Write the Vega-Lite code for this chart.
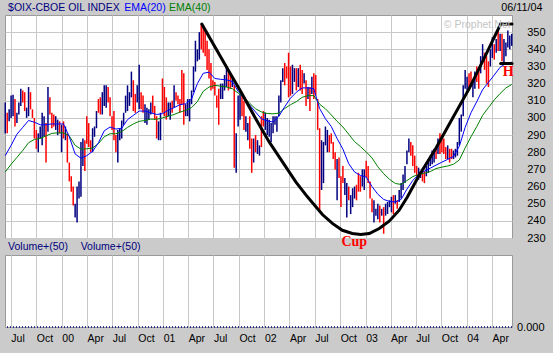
{
"$schema": "https://vega.github.io/schema/vega-lite/v6.json",
"background": "#cbcbcb",
"padding": {"left": 2, "top": 1, "right": 12, "bottom": 10},
"bounds": "flush",
"spacing": 17,
"datasets": {
"bars": [
{"d":"1999-06-11","h":309,"l":291,"c":"u"},{"d":"1999-06-18","h":303,"l":291,"c":"d"},{"d":"1999-06-25","h":305,"l":298,"c":"u"},
{"d":"1999-07-02","h":313,"l":300,"c":"u"},{"d":"1999-07-09","h":313.5,"l":301,"c":"u"},{"d":"1999-07-16","h":311,"l":295,"c":"d"},{"d":"1999-07-23","h":303,"l":297,"c":"u"},{"d":"1999-07-30","h":309,"l":302,"c":"u"},
{"d":"1999-08-06","h":317,"l":307,"c":"u"},{"d":"1999-08-13","h":316,"l":309,"c":"d"},{"d":"1999-08-20","h":315,"l":304,"c":"d"},{"d":"1999-08-27","h":306,"l":300,"c":"u"},
{"d":"1999-09-03","h":318,"l":301,"c":"u"},{"d":"1999-09-10","h":315,"l":305,"c":"d"},{"d":"1999-09-17","h":305,"l":300,"c":"d"},{"d":"1999-09-24","h":300,"l":288,"c":"d"},
{"d":"1999-10-01","h":293,"l":282,"c":"d"},{"d":"1999-10-08","h":291,"l":280,"c":"u"},{"d":"1999-10-15","h":295,"l":288,"c":"u"},{"d":"1999-10-22","h":303,"l":284,"c":"u"},{"d":"1999-10-29","h":301,"l":289,"c":"u"},
{"d":"1999-11-05","h":297,"l":274,"c":"d"},{"d":"1999-11-12","h":318,"l":292,"c":"u"},{"d":"1999-11-19","h":312,"l":302,"c":"d"},{"d":"1999-11-26","h":303,"l":294,"c":"d"},
{"d":"1999-12-03","h":302,"l":295,"c":"d"},{"d":"1999-12-10","h":301,"l":293,"c":"u"},{"d":"1999-12-17","h":299,"l":290,"c":"u"},{"d":"1999-12-24","h":298,"l":291,"c":"d"},{"d":"1999-12-31","h":296,"l":280,"c":"u"},
{"d":"2000-01-07","h":298,"l":288,"c":"d"},{"d":"2000-01-14","h":295,"l":287,"c":"u"},{"d":"2000-01-21","h":291,"l":274,"c":"d"},{"d":"2000-01-28","h":274,"l":263,"c":"d"},
{"d":"2000-02-04","h":266,"l":257,"c":"d"},{"d":"2000-02-11","h":260,"l":249,"c":"d"},{"d":"2000-02-18","h":250,"l":242,"c":"u"},{"d":"2000-02-25","h":260,"l":239,"c":"u"},
{"d":"2000-03-03","h":263,"l":253,"c":"u"},{"d":"2000-03-10","h":286,"l":254,"c":"u"},{"d":"2000-03-17","h":288,"l":272,"c":"u"},{"d":"2000-03-24","h":287,"l":269,"c":"d"},{"d":"2000-03-31","h":301,"l":285,"c":"d"},
{"d":"2000-04-07","h":297,"l":283,"c":"d"},{"d":"2000-04-14","h":287,"l":280,"c":"d"},{"d":"2000-04-21","h":294,"l":280,"c":"u"},{"d":"2000-04-28","h":295,"l":289,"c":"u"},
{"d":"2000-05-05","h":304,"l":294,"c":"u"},{"d":"2000-05-12","h":311,"l":303,"c":"d"},{"d":"2000-05-19","h":312,"l":302,"c":"d"},{"d":"2000-05-26","h":315,"l":302,"c":"u"},
{"d":"2000-06-02","h":319,"l":307,"c":"u"},{"d":"2000-06-09","h":319,"l":306,"c":"u"},{"d":"2000-06-16","h":318,"l":309,"c":"d"},{"d":"2000-06-23","h":312,"l":301,"c":"d"},{"d":"2000-06-30","h":301,"l":293,"c":"d"},
{"d":"2000-07-07","h":304,"l":287,"c":"d"},{"d":"2000-07-14","h":290,"l":280,"c":"d"},{"d":"2000-07-21","h":293,"l":274,"c":"u"},{"d":"2000-07-28","h":294,"l":287,"c":"u"},
{"d":"2000-08-04","h":298.5,"l":288,"c":"u"},{"d":"2000-08-11","h":303,"l":296,"c":"u"},{"d":"2000-08-18","h":313,"l":303,"c":"u"},{"d":"2000-08-25","h":319,"l":304,"c":"u"},
{"d":"2000-09-01","h":315,"l":307,"c":"u"},{"d":"2000-09-08","h":327,"l":312,"c":"u"},{"d":"2000-09-15","h":322,"l":304,"c":"d"},{"d":"2000-09-22","h":314,"l":303,"c":"d"},{"d":"2000-09-29","h":319,"l":309,"c":"u"},
{"d":"2000-10-06","h":331,"l":305,"c":"u"},{"d":"2000-10-13","h":315,"l":305,"c":"d"},{"d":"2000-10-20","h":313,"l":303,"c":"d"},{"d":"2000-10-27","h":308,"l":297,"c":"u"},
{"d":"2000-11-03","h":306,"l":296,"c":"u"},{"d":"2000-11-10","h":305,"l":299,"c":"u"},{"d":"2000-11-17","h":309,"l":302,"c":"u"},{"d":"2000-11-24","h":313,"l":303,"c":"d"},
{"d":"2000-12-01","h":307,"l":299,"c":"d"},{"d":"2000-12-08","h":301,"l":288,"c":"d"},{"d":"2000-12-15","h":298,"l":287,"c":"u"},{"d":"2000-12-22","h":303,"l":287,"c":"u"},{"d":"2000-12-29","h":323,"l":303,"c":"d"},
{"d":"2001-01-05","h":318,"l":301,"c":"d"},{"d":"2001-01-12","h":312,"l":299,"c":"d"},{"d":"2001-01-19","h":309,"l":301,"c":"u"},{"d":"2001-01-26","h":309,"l":299,"c":"u"},
{"d":"2001-02-02","h":310,"l":303,"c":"d"},{"d":"2001-02-09","h":319,"l":306,"c":"u"},{"d":"2001-02-16","h":315,"l":310,"c":"d"},{"d":"2001-02-23","h":313,"l":308,"c":"d"},
{"d":"2001-03-02","h":311,"l":303,"c":"d"},{"d":"2001-03-09","h":328,"l":308,"c":"d"},{"d":"2001-03-16","h":326,"l":296,"c":"d"},{"d":"2001-03-23","h":308,"l":301,"c":"u"},{"d":"2001-03-30","h":311,"l":301,"c":"u"},
{"d":"2001-04-06","h":311,"l":298,"c":"u"},{"d":"2001-04-13","h":316,"l":308,"c":"u"},{"d":"2001-04-20","h":330,"l":315,"c":"u"},{"d":"2001-04-27","h":345,"l":327,"c":"u"},
{"d":"2001-05-04","h":340,"l":333,"c":"u"},{"d":"2001-05-11","h":350,"l":334,"c":"u"},{"d":"2001-05-18","h":354.5,"l":340,"c":"d"},{"d":"2001-05-25","h":353,"l":338,"c":"d"},
{"d":"2001-06-01","h":351,"l":336,"c":"d"},{"d":"2001-06-08","h":345,"l":328,"c":"d"},{"d":"2001-06-15","h":340,"l":323,"c":"d"},{"d":"2001-06-22","h":332,"l":316,"c":"d"},{"d":"2001-06-29","h":322,"l":317,"c":"d"},
{"d":"2001-07-06","h":321,"l":313,"c":"d"},{"d":"2001-07-13","h":313,"l":306,"c":"d"},{"d":"2001-07-20","h":317,"l":296,"c":"d"},{"d":"2001-07-27","h":320,"l":311,"c":"u"},
{"d":"2001-08-03","h":320,"l":311,"c":"u"},{"d":"2001-08-10","h":325,"l":316,"c":"u"},{"d":"2001-08-17","h":330,"l":318,"c":"u"},{"d":"2001-08-24","h":328,"l":316,"c":"d"},{"d":"2001-08-31","h":325,"l":317,"c":"d"},
{"d":"2001-09-07","h":323,"l":318,"c":"u"},{"d":"2001-09-14","h":319,"l":271,"c":"d"},{"d":"2001-09-21","h":291,"l":268,"c":"u"},{"d":"2001-09-28","h":313,"l":295,"c":"u"},
{"d":"2001-10-05","h":314,"l":299,"c":"u"},{"d":"2001-10-12","h":313,"l":301,"c":"d"},{"d":"2001-10-19","h":310,"l":293,"c":"d"},{"d":"2001-10-26","h":301,"l":292,"c":"u"},
{"d":"2001-11-02","h":297,"l":287,"c":"u"},{"d":"2001-11-09","h":301,"l":282,"c":"d"},{"d":"2001-11-16","h":288,"l":268,"c":"d"},{"d":"2001-11-23","h":288,"l":274,"c":"u"},{"d":"2001-11-30","h":290,"l":280,"c":"d"},
{"d":"2001-12-07","h":287,"l":279,"c":"u"},{"d":"2001-12-14","h":284,"l":278,"c":"u"},{"d":"2001-12-21","h":301,"l":283,"c":"d"},{"d":"2001-12-28","h":304,"l":295,"c":"d"},
{"d":"2002-01-04","h":303,"l":293,"c":"u"},{"d":"2002-01-11","h":300,"l":290,"c":"u"},{"d":"2002-01-18","h":299,"l":289,"c":"u"},{"d":"2002-01-25","h":297,"l":286,"c":"u"},
{"d":"2002-02-01","h":301,"l":291,"c":"u"},{"d":"2002-02-08","h":301,"l":296,"c":"u"},{"d":"2002-02-15","h":301,"l":292,"c":"u"},{"d":"2002-02-22","h":313,"l":301,"c":"u"},
{"d":"2002-03-01","h":322,"l":309,"c":"u"},{"d":"2002-03-08","h":329,"l":321,"c":"u"},{"d":"2002-03-15","h":332,"l":319,"c":"d"},{"d":"2002-03-22","h":330,"l":323,"c":"d"},{"d":"2002-03-29","h":338,"l":312,"c":"d"},
{"d":"2002-04-05","h":330,"l":313,"c":"d"},{"d":"2002-04-12","h":331,"l":314,"c":"u"},{"d":"2002-04-19","h":329,"l":321,"c":"u"},{"d":"2002-04-26","h":329,"l":316,"c":"d"},
{"d":"2002-05-03","h":329,"l":318,"c":"u"},{"d":"2002-05-10","h":331,"l":316,"c":"d"},{"d":"2002-05-17","h":328,"l":314,"c":"d"},{"d":"2002-05-24","h":326,"l":320,"c":"u"},{"d":"2002-05-31","h":322,"l":307,"c":"d"},
{"d":"2002-06-07","h":318,"l":311,"c":"u"},{"d":"2002-06-14","h":318,"l":304,"c":"d"},{"d":"2002-06-21","h":324,"l":314,"c":"u"},{"d":"2002-06-28","h":326,"l":311,"c":"d"},
{"d":"2002-07-05","h":325,"l":313,"c":"d"},{"d":"2002-07-12","h":311,"l":293,"c":"d"},{"d":"2002-07-19","h":294,"l":246,"c":"d"},{"d":"2002-07-26","h":287,"l":258,"c":"u"},
{"d":"2002-08-02","h":286,"l":262,"c":"u"},{"d":"2002-08-09","h":295,"l":284,"c":"u"},{"d":"2002-08-16","h":293,"l":280,"c":"u"},{"d":"2002-08-23","h":290,"l":280,"c":"d"},{"d":"2002-08-30","h":291,"l":285,"c":"d"},
{"d":"2002-09-06","h":286,"l":276,"c":"d"},{"d":"2002-09-13","h":280,"l":270,"c":"d"},{"d":"2002-09-20","h":276,"l":252,"c":"u"},{"d":"2002-09-27","h":277,"l":265,"c":"d"},
{"d":"2002-10-04","h":266,"l":248,"c":"d"},{"d":"2002-10-11","h":272,"l":262,"c":"d"},{"d":"2002-10-18","h":265,"l":255,"c":"u"},{"d":"2002-10-25","h":262,"l":242,"c":"u"},
{"d":"2002-11-01","h":260,"l":252,"c":"d"},{"d":"2002-11-08","h":255,"l":244,"c":"u"},{"d":"2002-11-15","h":259,"l":248,"c":"u"},{"d":"2002-11-22","h":260,"l":253,"c":"u"},{"d":"2002-11-29","h":261,"l":252,"c":"d"},
{"d":"2002-12-06","h":268,"l":257,"c":"d"},{"d":"2002-12-13","h":266,"l":257,"c":"d"},{"d":"2002-12-20","h":270,"l":260,"c":"u"},{"d":"2002-12-27","h":270,"l":258,"c":"u"},
{"d":"2003-01-03","h":275,"l":265.5,"c":"d"},{"d":"2003-01-10","h":272,"l":262,"c":"d"},{"d":"2003-01-17","h":263,"l":253,"c":"d"},{"d":"2003-01-24","h":253,"l":245,"c":"d"},{"d":"2003-01-31","h":252,"l":239,"c":"u"},
{"d":"2003-02-07","h":247,"l":243,"c":"u"},{"d":"2003-02-14","h":250,"l":241,"c":"u"},{"d":"2003-02-21","h":249,"l":239,"c":"d"},{"d":"2003-02-28","h":247,"l":243,"c":"u"},
{"d":"2003-03-07","h":248,"l":232.5,"c":"d"},{"d":"2003-03-14","h":250,"l":243,"c":"u"},{"d":"2003-03-21","h":251,"l":244,"c":"u"},{"d":"2003-03-28","h":252,"l":248,"c":"u"},
{"d":"2003-04-04","h":254,"l":245,"c":"u"},{"d":"2003-04-11","h":255,"l":244,"c":"d"},{"d":"2003-04-18","h":255,"l":250,"c":"u"},{"d":"2003-04-25","h":252,"l":247,"c":"d"},
{"d":"2003-05-02","h":258,"l":251,"c":"u"},{"d":"2003-05-09","h":262,"l":253,"c":"u"},{"d":"2003-05-16","h":267,"l":258,"c":"u"},{"d":"2003-05-23","h":272,"l":262,"c":"u"},{"d":"2003-05-30","h":281,"l":273,"c":"u"},
{"d":"2003-06-06","h":288,"l":280,"c":"u"},{"d":"2003-06-13","h":286,"l":278,"c":"d"},{"d":"2003-06-20","h":284,"l":272,"c":"d"},{"d":"2003-06-27","h":278,"l":268,"c":"d"},
{"d":"2003-07-04","h":272,"l":266,"c":"d"},{"d":"2003-07-11","h":271,"l":264,"c":"u"},{"d":"2003-07-18","h":269,"l":265,"c":"u"},{"d":"2003-07-25","h":269,"l":263,"c":"d"},
{"d":"2003-08-01","h":269,"l":262,"c":"d"},{"d":"2003-08-08","h":272,"l":266,"c":"u"},{"d":"2003-08-15","h":276,"l":268,"c":"u"},{"d":"2003-08-22","h":278,"l":272,"c":"u"},{"d":"2003-08-29","h":281,"l":273,"c":"u"},
{"d":"2003-09-05","h":282,"l":274,"c":"u"},{"d":"2003-09-12","h":282,"l":276,"c":"d"},{"d":"2003-09-19","h":288,"l":279,"c":"u"},{"d":"2003-09-26","h":291,"l":279,"c":"d"},
{"d":"2003-10-03","h":290,"l":280,"c":"d"},{"d":"2003-10-10","h":288,"l":279,"c":"d"},{"d":"2003-10-17","h":283,"l":276,"c":"d"},{"d":"2003-10-24","h":284,"l":276,"c":"u"},{"d":"2003-10-31","h":282,"l":274,"c":"d"},
{"d":"2003-11-07","h":282,"l":276,"c":"d"},{"d":"2003-11-14","h":281,"l":276,"c":"u"},{"d":"2003-11-21","h":282,"l":277,"c":"u"},{"d":"2003-11-28","h":286,"l":278,"c":"u"},
{"d":"2003-12-05","h":300,"l":284,"c":"u"},{"d":"2003-12-12","h":302,"l":292,"c":"u"},{"d":"2003-12-19","h":319,"l":301,"c":"u"},{"d":"2003-12-26","h":328,"l":317,"c":"u"},
{"d":"2004-01-02","h":324,"l":316,"c":"u"},{"d":"2004-01-09","h":326,"l":317,"c":"d"},{"d":"2004-01-16","h":327,"l":318,"c":"d"},{"d":"2004-01-23","h":321,"l":312,"c":"u"},{"d":"2004-01-30","h":327,"l":317,"c":"u"},
{"d":"2004-02-06","h":330,"l":321,"c":"d"},{"d":"2004-02-13","h":328,"l":317,"c":"d"},{"d":"2004-02-20","h":336,"l":326,"c":"u"},{"d":"2004-02-27","h":343,"l":333,"c":"u"},
{"d":"2004-03-05","h":338,"l":328,"c":"d"},{"d":"2004-03-12","h":336,"l":320,"c":"d"},{"d":"2004-03-19","h":333,"l":318,"c":"d"},{"d":"2004-03-26","h":340,"l":330,"c":"u"},
{"d":"2004-04-02","h":347,"l":335,"c":"u"},{"d":"2004-04-09","h":343,"l":334,"c":"d"},{"d":"2004-04-16","h":346,"l":338,"c":"u"},{"d":"2004-04-23","h":352,"l":339,"c":"d"},{"d":"2004-04-30","h":349,"l":339,"c":"u"},
{"d":"2004-05-07","h":349,"l":333,"c":"d"},{"d":"2004-05-14","h":346,"l":332,"c":"u"},{"d":"2004-05-21","h":344,"l":336,"c":"u"},{"d":"2004-05-28","h":351,"l":341,"c":"u"},
{"d":"2004-06-04","h":348,"l":340,"c":"u"},{"d":"2004-06-11","h":349,"l":342,"c":"u"}
],
"ema": [
{"d":"1999-06-11","e20":278,"e40":268.5},{"d":"1999-07-02","e20":284,"e40":273},{"d":"1999-07-23","e20":290.5,"e40":277},{"d":"1999-08-13","e20":294.5,"e40":281},
{"d":"1999-09-03","e20":298.5,"e40":285.5},{"d":"1999-09-24","e20":297.5,"e40":287.5},{"d":"1999-10-15","e20":296,"e40":288},{"d":"1999-11-05","e20":296,"e40":289.5},
{"d":"1999-11-26","e20":296.5,"e40":291},{"d":"1999-12-17","e20":296.5,"e40":291.3},{"d":"2000-01-07","e20":296.5,"e40":291.3},{"d":"2000-01-28","e20":289,"e40":289.5},
{"d":"2000-02-18","e20":279,"e40":284},{"d":"2000-03-10","e20":276.5,"e40":281.8},{"d":"2000-03-31","e20":278,"e40":282},{"d":"2000-04-21","e20":280.5,"e40":282.5},
{"d":"2000-05-12","e20":285.5,"e40":285},{"d":"2000-06-02","e20":292.5,"e40":289},{"d":"2000-06-23","e20":294.7,"e40":290.8},{"d":"2000-07-14","e20":293.5,"e40":290.8},
{"d":"2000-08-04","e20":294,"e40":292},{"d":"2000-08-25","e20":299,"e40":294.5},{"d":"2000-09-15","e20":301.5,"e40":296.5},{"d":"2000-10-06","e20":304,"e40":298},
{"d":"2000-10-27","e20":304,"e40":298.5},{"d":"2000-11-17","e20":303,"e40":299.3},{"d":"2000-12-08","e20":302,"e40":299.2},{"d":"2000-12-29","e20":302.5,"e40":300},
{"d":"2001-01-19","e20":304.5,"e40":301},{"d":"2001-02-09","e20":306,"e40":302},{"d":"2001-03-02","e20":307.7,"e40":303.4},{"d":"2001-03-23","e20":308.3,"e40":304.4},
{"d":"2001-04-13","e20":311,"e40":306},{"d":"2001-05-04","e20":320,"e40":309.5},{"d":"2001-05-25","e20":326,"e40":315.5},{"d":"2001-06-15","e20":326.7,"e40":318},
{"d":"2001-07-06","e20":323,"e40":319},{"d":"2001-07-27","e20":322.5,"e40":318.5},{"d":"2001-08-17","e20":322.2,"e40":318},{"d":"2001-09-07","e20":321.2,"e40":317},
{"d":"2001-09-28","e20":315.5,"e40":314.5},{"d":"2001-10-19","e20":312,"e40":312},{"d":"2001-11-09","e20":307.5,"e40":308.5},{"d":"2001-11-30","e20":303.4,"e40":305.3},
{"d":"2001-12-21","e20":299.5,"e40":303.5},{"d":"2002-01-11","e20":298.3,"e40":302.6},{"d":"2002-02-01","e20":297.6,"e40":302.4},{"d":"2002-02-22","e20":301,"e40":302.8},
{"d":"2002-03-15","e20":306.5,"e40":305.5},{"d":"2002-04-05","e20":311.5,"e40":307.7},{"d":"2002-04-26","e20":315,"e40":309.5},{"d":"2002-05-17","e20":317.5,"e40":312},
{"d":"2002-06-07","e20":317.5,"e40":313},{"d":"2002-06-28","e20":317,"e40":313},{"d":"2002-07-19","e20":305.5,"e40":308},{"d":"2002-08-09","e20":299.5,"e40":305.3},
{"d":"2002-08-30","e20":295,"e40":301.8},{"d":"2002-09-20","e20":288,"e40":298},{"d":"2002-10-11","e20":281.8,"e40":294.7},{"d":"2002-11-01","e20":273.3,"e40":290.5},
{"d":"2002-11-22","e20":268.5,"e40":286.2},{"d":"2002-12-13","e20":266.5,"e40":283.3},{"d":"2003-01-03","e20":265.5,"e40":280.2},{"d":"2003-01-24","e20":260,"e40":276.7},
{"d":"2003-02-14","e20":255.5,"e40":271.5},{"d":"2003-03-07","e20":252.5,"e40":267.5},{"d":"2003-03-28","e20":251.3,"e40":264.2},{"d":"2003-04-18","e20":251,"e40":261.8},
{"d":"2003-05-09","e20":252.5,"e40":261.2},{"d":"2003-05-30","e20":258.5,"e40":263.5},{"d":"2003-06-20","e20":263.5,"e40":265.8},{"d":"2003-07-11","e20":267,"e40":267},
{"d":"2003-08-01","e20":269,"e40":267.8},{"d":"2003-08-22","e20":270.7,"e40":268.7},{"d":"2003-09-12","e20":272.5,"e40":270.5},{"d":"2003-10-03","e20":274.2,"e40":271.3},
{"d":"2003-10-24","e20":275.8,"e40":272},{"d":"2003-11-14","e20":277.6,"e40":273},{"d":"2003-12-05","e20":283.5,"e40":275.5},{"d":"2003-12-26","e20":294.5,"e40":282.5},
{"d":"2004-01-16","e20":303,"e40":289},{"d":"2004-02-06","e20":309.5,"e40":295},{"d":"2004-02-27","e20":316.5,"e40":301.5},{"d":"2004-03-19","e20":320.7,"e40":306},
{"d":"2004-04-09","e20":325,"e40":310.5},{"d":"2004-04-30","e20":329.5,"e40":314.2},{"d":"2004-05-21","e20":331.8,"e40":317.5},{"d":"2004-06-11","e20":332.5,"e40":319.5}
],
"cup": [
{"d":"2001-05-20","v":354.7,"s":"cup"},{"d":"2001-08-20","v":328.8,"s":"cup"},{"d":"2001-10-08","v":315.2,"s":"cup"},{"d":"2001-11-30","v":299.7,"s":"cup"},
{"d":"2002-01-18","v":286,"s":"cup"},{"d":"2002-03-07","v":274.4,"s":"cup"},{"d":"2002-04-24","v":262.7,"s":"cup"},{"d":"2002-06-05","v":254,"s":"cup"},
{"d":"2002-07-29","v":243.7,"s":"cup"},{"d":"2002-09-03","v":238.5,"s":"cup"},{"d":"2002-10-09","v":234.5,"s":"cup"},{"d":"2002-11-14","v":232.6,"s":"cup"},
{"d":"2002-12-14","v":232,"s":"cup"},{"d":"2003-01-14","v":232.6,"s":"cup"},{"d":"2003-02-19","v":235.5,"s":"cup"},{"d":"2003-03-27","v":239.8,"s":"cup"},
{"d":"2003-05-02","v":246.2,"s":"cup"},{"d":"2003-06-01","v":254,"s":"cup"},{"d":"2003-07-13","v":266.6,"s":"cup"},{"d":"2003-09-11","v":282.2,"s":"cup"},
{"d":"2003-11-10","v":299.7,"s":"cup"},{"d":"2004-01-10","v":317.2,"s":"cup"},{"d":"2004-03-09","v":336.6,"s":"cup"},{"d":"2004-05-02","v":354.7,"s":"cup"},
{"d":"2004-06-12","v":354.7,"s":"cup"},
{"d":"2004-05-02","v":331.7,"s":"handle"},{"d":"2004-06-12","v":331.7,"s":"handle"}
],
"labels": [
{"t":"$OIX-CBOE OIL INDEX","d":"1999-06-21","v":363.8,"k":"title"},
{"t":"EMA(20)","d":"2000-08-13","v":363.8,"k":"ema20"},
{"t":"EMA(40)","d":"2001-01-22","v":363.8,"k":"ema40"},
{"t":"© Prophet.Net","d":"2003-10-10","v":354,"k":"mark"}
]
},
"vconcat": [
{
"width": 507,
"height": 223,
"resolve": {"scale": {"color": "independent"}},
"layer": [
{
"data": {"name": "bars"},
"mark": {"type": "rule", "strokeWidth": 1.5},
"encoding": {
"x": {"field": "d", "type": "temporal", "scale": {"domain": ["1999-06-10", "2004-06-12"]},
"axis": {"orient": "bottom", "grid": true, "labels": false, "ticks": false, "domain": false, "title": null, "tickCount": {"interval": "month", "step": 3}}},
"y": {"field": "h", "type": "quantitative", "scale": {"domain": [230, 360], "nice": false, "zero": false},
"axis": {"orient": "right", "values": [230, 240, 250, 260, 270, 280, 290, 300, 310, 320, 330, 340, 350], "tickCount": 20, "grid": true, "ticks": false, "tickSize": 0, "domain": false, "labelAlign": "right", "labelBaseline": "middle", "labelPadding": 33, "labelOverlap": false, "labelFontSize": 11, "title": null}},
"y2": {"field": "l"},
"color": {"field": "c", "type": "nominal", "scale": {"domain": ["u", "d"], "range": ["#000080", "#ff0000"]}, "legend": null}
}
},
{
"data": {"name": "ema"},
"mark": {"type": "line", "color": "#008000", "strokeWidth": 1},
"encoding": {
"x": {"field": "d", "type": "temporal"},
"y": {"field": "e40", "type": "quantitative"}
}
},
{
"data": {"name": "ema"},
"mark": {"type": "line", "color": "#0000ff", "strokeWidth": 1},
"encoding": {
"x": {"field": "d", "type": "temporal"},
"y": {"field": "e20", "type": "quantitative"}
}
},
{
"data": {"name": "cup"},
"mark": {"type": "line", "color": "#000000", "strokeWidth": 3, "strokeCap": "round"},
"encoding": {
"x": {"field": "d", "type": "temporal"},
"y": {"field": "v", "type": "quantitative"},
"detail": {"field": "s"}
}
},
{
"data": {"name": "labels"},
"mark": {"type": "text", "align": "left", "baseline": "middle", "fontSize": 10.5, "font": "Liberation Sans"},
"encoding": {
"x": {"field": "d", "type": "temporal"},
"y": {"field": "v", "type": "quantitative"},
"text": {"field": "t"},
"color": {"field": "k", "type": "nominal", "scale": {"domain": ["title", "ema20", "ema40", "mark"], "range": ["#000080", "#0000ff", "#008000", "#c4c4c4"]}, "legend": null}
}
},
{
"data": {"values": [{"t": "Cup", "d": "2002-11-21", "v": 227.6}, {"t": "H", "d": "2004-05-29", "v": 326.8}]},
"mark": {"type": "text", "align": "center", "baseline": "middle", "fontSize": 14, "fontWeight": "bold", "font": "Liberation Serif", "color": "#ff0000"},
"encoding": {
"x": {"field": "d", "type": "temporal"},
"y": {"field": "v", "type": "quantitative"},
"text": {"field": "t"}
}
},
{
"data": {"values": [{"t": "06/11/04", "d": "2004-09-30", "v": 363.8}]},
"mark": {"type": "text", "align": "right", "baseline": "middle", "fontSize": 10.8, "font": "Liberation Sans", "color": "#000000"},
"encoding": {
"x": {"field": "d", "type": "temporal"},
"y": {"field": "v", "type": "quantitative"},
"text": {"field": "t"}
}
}
]
},
{
"width": 507,
"height": 72,
"data": {"values": [{"t": "Volume+(50)", "d": "1999-06-21", "v": 1.111}, {"t": "Volume+(50)", "d": "2000-03-09", "v": 1.111}]},
"layer": [
{
"mark": {"type": "text", "align": "left", "baseline": "middle", "fontSize": 10.5, "font": "Liberation Sans", "color": "#000080"},
"encoding": {
"x": {"field": "d", "type": "temporal", "scale": {"domain": ["1999-06-10", "2004-06-12"]},
"axis": {"orient": "bottom", "grid": true, "ticks": false, "tickSize": 0, "domain": false, "title": null, "tickCount": {"interval": "month", "step": 3},
"labelExpr": "month(datum.value) == 0 ? timeFormat(datum.value, '%y') : timeFormat(datum.value, '%b')", "labelAlign": "left", "labelFlush": false, "labelOverlap": false, "labelPadding": 6, "labelFontSize": 10.5}},
"y": {"field": "v", "type": "quantitative", "scale": {"domain": [0, 1], "nice": false},
"axis": {"orient": "right", "values": [0], "format": ".3f", "grid": false, "ticks": false, "tickSize": 0, "domain": false, "labelAlign": "right", "labelBaseline": "middle", "labelPadding": 32, "title": null}},
"text": {"field": "t"}
}
},
{
"mark": {"type": "rule", "color": "#000080", "strokeDash": [1, 2], "strokeWidth": 1},
"encoding": {
"y": {"datum": 0, "type": "quantitative"}
}
}
]
}
],
"config": {
"view": {"stroke": "#9a9a9a", "strokeWidth": 1, "fill": "#ffffff"},
"axis": {"labelFont": "Liberation Sans", "labelFontSize": 11, "labelColor": "#000000", "gridColor": "#c8c8c8", "gridOpacity": 1, "gridWidth": 1}
}
}
